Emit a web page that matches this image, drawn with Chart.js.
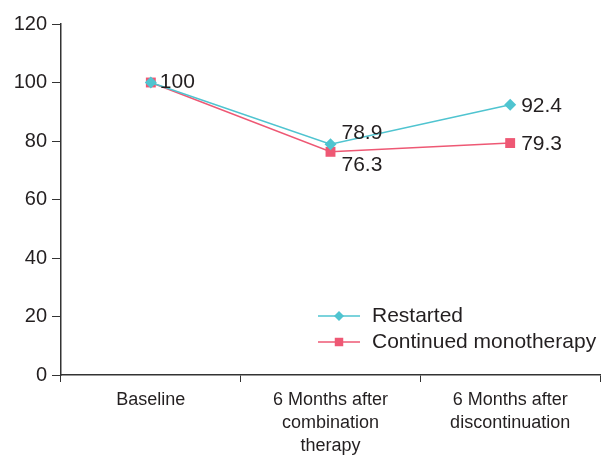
<!DOCTYPE html>
<html>
<head>
<meta charset="utf-8">
<script src="https://cdn.jsdelivr.net/npm/chart.js@4"></script>
<style>
  html, body { margin: 0; padding: 0; background: #fff; }
  #wrap { width: 601px; height: 456px; }
</style>
</head>
<body>
<div id="wrap"><canvas id="chart" width="601" height="456"></canvas></div>
<script>
// ── DATA ────────────────────────────────────────
const categories = [
  'Baseline',
  ['6 Months after', 'combination', 'therapy'],
  ['6 Months after', 'discontinuation']
];
const restarted = [100, 78.9, 92.4];
const continued = [100, 76.3, 79.3];
const seriesNames = ['Restarted', 'Continued monotherapy'];
const yTicks = [0, 20, 40, 60, 80, 100, 120];

const CYAN = '#4fc4d0';
const PINK = '#ee5874';
const INK  = '#231f20';
const FONT = "'Liberation Sans', Arial, sans-serif";

// ── VALUE LABELS ────────────────────────────────
// per dataset, per point: [dx, dy] offset of label start from the point (null = hide)
const labelOffsets = [
  [[9, 0], [11, -11], [11, 1]],
  [null,   [11, 13],  [11, 1]]
];
const valueLabels = {
  id: 'valueLabels',
  afterDatasetsDraw(chart) {
    const ctx = chart.ctx;
    ctx.save();
    ctx.font = '21px ' + FONT;
    ctx.fillStyle = INK;
    ctx.textAlign = 'left';
    ctx.textBaseline = 'middle';
    chart.data.datasets.forEach((ds, di) => {
      chart.getDatasetMeta(di).data.forEach((pt, i) => {
        const off = labelOffsets[di][i];
        if (!off) return;
        ctx.fillText(String(ds.data[i]), pt.x + off[0], pt.y + off[1]);
      });
    });
    ctx.restore();
  }
};

// ── LEGEND (inside plot, line + marker) ─────────
const lineLegend = {
  id: 'lineLegend',
  afterDraw(chart) {
    const ctx = chart.ctx;
    const x0 = 318, x1 = 360, tx = 372;
    const rows = [316, 342];
    ctx.save();
    chart.data.datasets.forEach((ds, di) => {
      const y = rows[di];
      ctx.strokeStyle = ds.borderColor;
      ctx.lineWidth = 1.5;
      ctx.beginPath(); ctx.moveTo(x0, y); ctx.lineTo(x1, y); ctx.stroke();
      ctx.fillStyle = ds.backgroundColor;
      Chart.helpers.drawPoint(ctx, {
        pointStyle: ds.pointStyle, radius: ds.pointRadius - 1, borderWidth: 0, rotation: 0
      }, (x0 + x1) / 2, y);
      ctx.fillStyle = INK;
      ctx.font = '21px ' + FONT;
      ctx.textBaseline = 'middle';
      ctx.fillText(ds.label, tx, y);
    });
    ctx.restore();
  }
};

// ── CHART ───────────────────────────────────────
new Chart(document.getElementById('chart'), {
  type: 'line',
  data: {
    labels: categories,
    datasets: [
      {
        label: seriesNames[0],
        data: restarted,
        borderColor: CYAN,
        backgroundColor: CYAN,
        borderWidth: 1.5,
        pointStyle: 'rectRot',
        pointRadius: 6,
        pointBorderWidth: 0,
        tension: 0
      },
      {
        label: seriesNames[1],
        data: continued,
        borderColor: PINK,
        backgroundColor: PINK,
        borderWidth: 1.5,
        pointStyle: 'rect',
        pointRadius: 7,
        pointBorderWidth: 0,
        tension: 0
      }
    ]
  },
  options: {
    responsive: false,
    animation: false,
    devicePixelRatio: 1,
    layout: { autoPadding: false, padding: { top: 24, right: 1, left: 0, bottom: 0 } },
    plugins: { legend: { display: false }, tooltip: { enabled: false } },
    scales: {
      x: {
        offset: true,
        grid: { offset: true, drawOnChartArea: false, drawTicks: true, tickLength: 7, color: '#333' },
        border: { color: '#333', width: 1.5 },
        ticks: { color: INK, font: { family: FONT, size: 18, lineHeight: 1.3 }, maxRotation: 0, autoSkip: false, padding: 6 },
        afterFit(scale) { scale.height = 81; scale.paddingLeft = 0; scale.paddingRight = 0; }
      },
      y: {
        min: 0, max: 120,
        afterBuildTicks(scale) { scale.ticks = yTicks.map(v => ({ value: v })); },
        grid: { drawOnChartArea: false, drawTicks: true, tickLength: 9, color: '#333' },
        border: { color: '#333', width: 1.5 },
        ticks: { color: INK, font: { family: FONT, size: 20 }, padding: 5 },
        afterFit(scale) { scale.width = 61; }
      }
    }
  },
  plugins: [valueLabels, lineLegend]
});
</script>
</body>
</html>
